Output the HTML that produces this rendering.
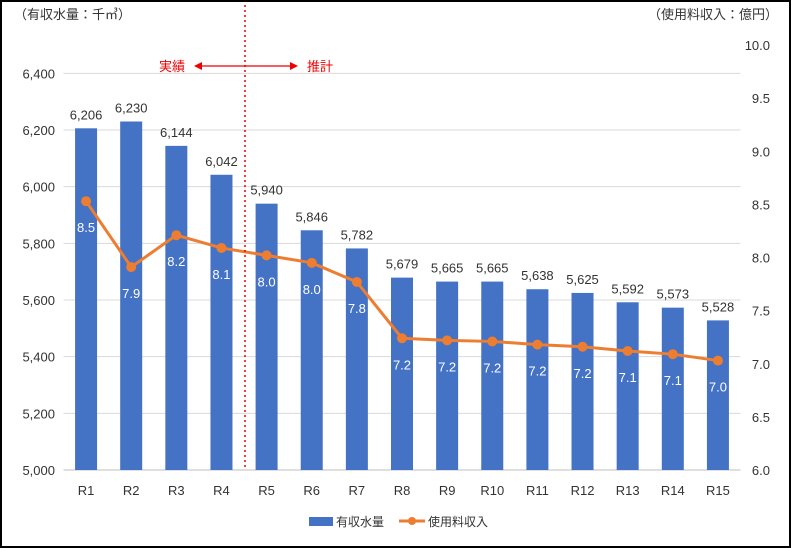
<!DOCTYPE html>
<html><head><meta charset="utf-8"><style>
body{margin:0;background:#fff}
svg{display:block;font-family:"Liberation Sans","Noto Sans CJK JP",sans-serif}
</style></head><body>
<svg id="c" width="791" height="548">
<rect x="1" y="1" width="789" height="546" fill="#fff" stroke="#000" stroke-width="2"/>
<text x="14" y="19" font-size="13" fill="#333">（有収水量：千㎥）</text>
<text x="778" y="19" font-size="13" fill="#333" text-anchor="end">（使用料収入：億円）</text>
<g id="grid"></g><g id="bars"></g><g id="line"></g><g id="labels"></g>
<line x1="245" y1="5" x2="245" y2="470" stroke="#e00" stroke-width="1.5" stroke-dasharray="2,3"/>
<text x="172" y="71" font-size="13" fill="#e00" text-anchor="middle">実績</text>
<text x="320" y="71" font-size="13" fill="#e00" text-anchor="middle">推計</text>
<line x1="200" y1="66" x2="292" y2="66" stroke="#e00" stroke-width="1.2"/>
<polygon points="194,66 202,62 202,70" fill="#e00"/>
<polygon points="298,66 290,62 290,70" fill="#e00"/>
<g>
<rect x="309" y="517" width="24" height="9" fill="#4472c4"/>
<text x="336" y="526" font-size="12" fill="#333">有収水量</text>
<line x1="399" y1="521" x2="425" y2="521" stroke="#ed7d31" stroke-width="3"/>
<circle cx="412" cy="521" r="4" fill="#ed7d31"/>
<text x="428" y="526" font-size="12" fill="#333">使用料収入</text>
</g>
</svg>
<script>
const categories=["R1","R2","R3","R4","R5","R6","R7","R8","R9","R10","R11","R12","R13","R14","R15"];
const volumes=[6206,6230,6144,6042,5940,5846,5782,5679,5665,5665,5638,5625,5592,5573,5528];
const revenues=[8.53,7.91,8.21,8.09,8.02,7.95,7.77,7.24,7.22,7.21,7.18,7.16,7.12,7.09,7.03];
const leftTicks=[5000,5200,5400,5600,5800,6000,6200,6400];
const rightTicks=[6.0,6.5,7.0,7.5,8.0,8.5,9.0,9.5,10.0];
const NS="http://www.w3.org/2000/svg";
const X0=63.5,X1=740.5,Y0=470,Y1=45;
const step=(X1-X0)/categories.length;
const xc=i=>X0+step*(i+0.5);
const yL=v=>Y0-(v-5000)/1500*(Y0-Y1);
const yR=v=>Y0-(v-6)/4*(Y0-Y1);
function mk(tag,attrs,parent){const e=document.createElementNS(NS,tag);for(const k in attrs)e.setAttribute(k,attrs[k]);document.getElementById(parent).appendChild(e);return e;}
leftTicks.forEach(t=>{
  const l=mk("line",{x1:X0,x2:X1,y1:yL(t),y2:yL(t),stroke:t===5000?"#bfbfbf":"#d9d9d9","stroke-width":1},"grid");
  
  
  const tx=mk("text",{x:55,y:yL(t)+5,"font-size":13,fill:"#333","text-anchor":"end"},"grid");
  tx.textContent=t.toLocaleString("en-US");
  
  
});
rightTicks.forEach(t=>{
  const tx=mk("text",{x:770,y:yR(t)+5,"font-size":13,fill:"#333","text-anchor":"end"},"grid");
  tx.textContent=t.toFixed(1);
  
  
});
categories.forEach((c,i)=>{
  const b=mk("rect",{x:xc(i)-11,y:yL(volumes[i]),width:22,height:Y0-yL(volumes[i]),fill:"#4472c4"},"bars");
  
  
  const v=mk("text",{x:xc(i),y:yL(volumes[i])-9,"font-size":13,fill:"#333","text-anchor":"middle"},"labels");
  v.textContent=volumes[i].toLocaleString("en-US");
  
  
  const cl=mk("text",{x:xc(i),y:495,"font-size":13,fill:"#333","text-anchor":"middle"},"labels");
  cl.textContent=c;
  
  
});
const pl=mk("polyline",{points:revenues.map((v,i)=>xc(i)+","+yR(v)).join(" "),fill:"none",stroke:"#ed7d31","stroke-width":3},"line");


revenues.forEach((v,i)=>{
  const p=mk("circle",{cx:xc(i),cy:yR(v),r:5,fill:"#ed7d31"},"line");
  
  
  const t=mk("text",{x:xc(i),y:yR(v)+31,"font-size":13,fill:"#fff","text-anchor":"middle"},"labels");
  t.textContent=v.toFixed(1);
  
  
});
</script>
</body></html>
